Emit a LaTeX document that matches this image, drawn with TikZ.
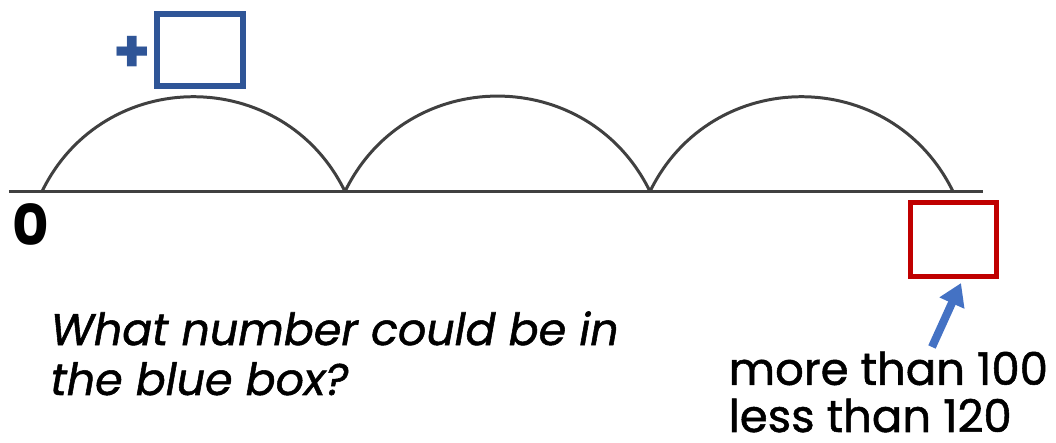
\documentclass[tikz,border=0pt]{standalone}
\usepackage{fontspec}
\setmainfont{Poppins}
\usetikzlibrary{arrows.meta}
\definecolor{boxblue}{HTML}{2F5597}
\definecolor{boxred}{HTML}{C00000}
\definecolor{arrowblue}{HTML}{4472C4}
\definecolor{linegray}{HTML}{404040}
\begin{document}
\begin{tikzpicture}[
    x=0.01cm, y=0.01cm,
    answer/.style={rectangle, draw, minimum width=0.86cm, inner sep=0pt},
    jump/.style={linegray, line width=0.85pt, bend left=64, looseness=1.19},
    arrow/.style={-{Triangle[length=0.22cm, width=0.26cm]}, arrowblue, line width=2.3pt}
]
\useasboundingbox (0,0) rectangle (1056,443);

% Number line
\coordinate (p0) at (42,251.5);
\coordinate (p1) at (345,251.5);
\coordinate (p2) at (650,251.5);
\coordinate (p3) at (953,251.5);
\draw[linegray, line width=1pt] (9,251.5) -- (983,251.5);

% Jumps
\draw[jump] (p0) to (p1);
\draw[jump] (p1) to (p2);
\draw[jump] (p2) to (p3);

% Boxes
\node[answer, draw=boxblue, line width=1.7pt, minimum height=0.72cm] (blue) at (200,393) {};
\node[font=\bfseries\fontsize{17}{17}\selectfont, text=boxblue, inner sep=0pt] (plus) at (132,389) {+};
\node[answer, draw=boxred, line width=1.45pt, minimum height=0.74cm] (red) at (953.5,203.5) {};

% Labels
\node[font=\bfseries\fontsize{16}{16}\selectfont, inner sep=0pt] (zero) at (31,218) {0};
\node[font=\itshape\fontsize{12.6}{14.2}\selectfont\addfontfeature{FakeBold=1.2}, align=left, anchor=base west, inner sep=0pt] (question) at (50,48) {What number could be in\\the blue box?};
\node[font=\fontsize{12.8}{13.4}\selectfont\addfontfeature{FakeBold=1.2}, align=left, anchor=base west, inner sep=0pt] (hint) at (728,11) {more than 100\\less than 120};

% Arrow
\coordinate (tail) at (932,96);
\coordinate (tip) at ([xshift=0.075cm, yshift=-0.04cm]red.south);
\draw[arrow] (tail) -- (tip);

\end{tikzpicture}
\end{document}
